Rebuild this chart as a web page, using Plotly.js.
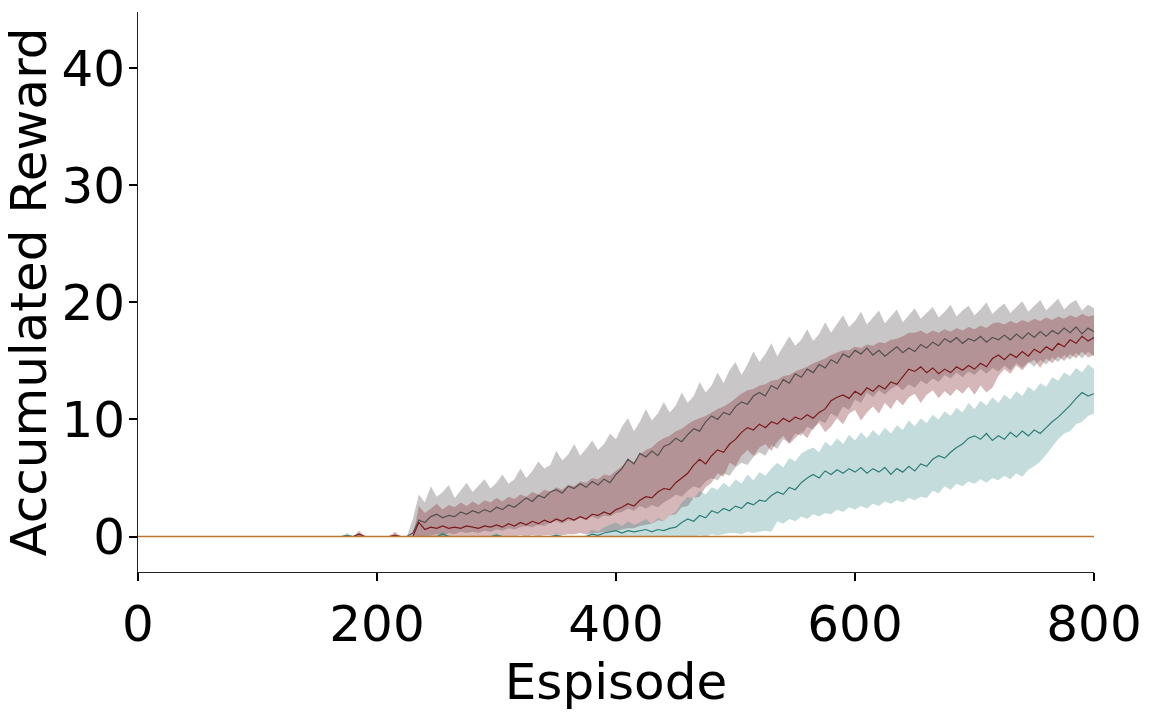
<!DOCTYPE html>
<html>
<head>
<meta charset="utf-8">
<script src="https://cdn.plot.ly/plotly-3.0.1.min.js"></script>
<style>
  html, body { margin: 0; padding: 0; background: #fff; }
  #chart { width: 1152px; height: 720px; }
</style>
</head>
<body>
<div id="chart"></div>
<script>
// episodes 0..800, sampled every 5
const episodes = [];
for (let e = 0; e <= 800; e += 5) episodes.push(e);

// 0..225 (46 samples) are flat at zero, then 230..800
const grayMean = [
  0,0,0,0,0,0,0,0,0,0, 0,0,0,0,0,0,0,0,0,0, 0,0,0,0,0,0,0,0,0,0, 0,0,0,0,0,0,0,0,0,0, 0,0,0,0,0,0,
  0.3,1.4,1.2,1.7,1.9,1.6,1.8,1.7,2.1,1.9,
  2.2,2.0,2.3,2.1,2.5,2.3,2.7,2.5,2.9,3.3,
  3.0,3.5,3.3,3.8,4.0,3.7,4.3,4.1,4.5,4.2,
  4.7,4.4,4.9,4.6,5.3,5.8,6.6,6.2,7.1,6.8,
  7.3,6.9,7.7,7.9,8.4,8.1,8.7,9.2,9.0,9.8,
  10.3,10.0,10.6,10.4,11.1,11.5,11.3,12.0,12.3,12.0,
  12.9,12.6,13.4,13.1,13.9,13.6,14.3,14.0,14.7,14.4,
  15.1,14.8,15.6,15.3,15.9,15.6,16.1,15.5,15.9,15.4,
  15.8,16.2,15.7,16.1,15.8,16.4,16.1,16.6,16.3,16.9,
  16.6,17.0,16.5,16.9,16.7,17.1,16.6,17.0,16.8,17.2,
  16.8,17.3,16.9,17.4,17.0,17.5,17.1,17.6,17.3,17.8,
  17.4,17.9,17.3,17.8,17.5
];
const grayUpper = [
  0,0,0,0,0,0,0,0,0,0, 0,0,0,0,0,0,0,0,0,0, 0,0,0,0,0,0,0,0,0,0, 0,0,0,0,0,0,0,0.3,0,0, 0,0,0,0.2,0,0,
  1.5,3.6,2.9,4.3,3.4,3.8,4.4,3.3,3.9,4.6,
  3.8,4.4,4.9,4.1,4.6,5.3,4.5,4.9,5.8,5.0,
  5.6,6.4,5.8,6.1,7.3,6.5,7.0,7.9,6.9,7.5,
  8.2,7.4,7.9,8.8,8.3,9.4,10.1,9.0,9.8,10.9,
  9.9,10.5,11.5,10.6,11.2,12.3,11.4,12.0,13.2,12.3,
  12.9,14.0,13.1,14.2,14.9,13.8,14.7,15.8,14.9,15.6,
  16.5,15.4,16.2,17.1,16.3,16.8,17.7,16.7,17.3,18.3,
  17.4,18.1,18.9,17.9,18.4,19.2,18.1,18.7,19.3,18.2,
  18.8,19.4,18.3,18.9,19.5,18.6,19.1,19.6,18.7,19.2,
  19.8,18.8,19.3,19.7,18.9,19.4,20.0,19.0,19.5,19.9,
  19.1,19.6,20.1,19.2,19.7,20.2,19.3,19.8,20.3,19.4,
  19.9,20.2,19.3,19.8,19.5
];
const grayLower = [
  0,0,0,0,0,0,0,0,0,0, 0,0,0,0,0,0,0,0,0,0, 0,0,0,0,0,0,0,0,0,0, 0,0,0,0,0,0,0,0,0,0, 0,0,0,0,0,0,
  0,0,0,0.1,0.2,0.1,0.3,0.2,0.4,0.3,
  0.4,0.3,0.5,0.4,0.6,0.5,0.7,0.6,0.8,0.9,
  0.8,1.0,0.9,1.2,1.3,1.1,1.4,1.3,1.6,1.4,
  1.7,1.5,1.8,1.7,2.0,2.1,2.4,2.2,2.6,2.4,
  2.7,2.5,2.9,3.2,3.6,3.4,3.9,4.3,4.1,4.7,
  5.0,4.8,5.4,5.2,5.9,6.3,6.1,6.8,7.2,6.9,
  7.8,7.5,8.3,8.0,8.8,8.6,9.4,9.1,9.9,9.7,
  10.5,10.2,11.1,10.8,11.7,11.4,12.3,11.9,12.5,12.1,
  12.6,12.9,12.5,13.0,12.7,13.3,13.0,13.5,13.2,13.8,
  13.5,14.0,13.6,14.1,13.8,14.3,13.9,14.4,14.1,14.6,
  14.2,14.8,14.4,14.9,14.5,15.1,14.7,15.3,14.9,15.5,
  15.1,15.7,15.2,15.8,15.4
];

const redMean = [
  0,0,0,0,0,0,0,0,0,0, 0,0,0,0,0,0,0,0,0,0, 0,0,0,0,0,0,0,0,0,0, 0,0,0,0,0,0,0,0.2,0,0, 0,0,0,0.1,0,0,
  0,1.2,0.6,0.8,0.7,0.9,0.7,0.8,0.7,0.9,
  0.8,0.7,0.9,0.8,1.0,0.8,1.1,0.9,1.2,1.0,
  1.3,1.1,1.4,1.2,1.5,1.3,1.6,1.4,1.7,1.5,
  1.9,1.8,2.1,1.9,2.3,2.5,2.8,2.6,3.1,3.4,
  3.3,3.8,4.1,4.0,4.6,5.0,5.4,6.1,6.6,6.2,
  6.9,7.4,7.2,7.9,8.3,8.9,9.3,9.1,9.6,9.3,
  9.8,9.6,10.1,9.8,10.2,10.0,10.4,10.1,10.6,10.9,
  11.6,11.9,12.1,11.8,12.4,12.1,12.7,12.4,12.9,12.6,
  13.2,13.0,13.6,14.3,14.1,14.5,14.0,14.4,13.9,14.3,
  14.0,14.5,14.2,14.6,14.3,14.8,14.5,15.2,15.5,15.1,
  15.6,15.3,15.8,15.4,16.0,15.7,16.2,15.9,16.5,16.2,
  16.8,16.5,17.1,16.7,17.0
];
const redUpper = [
  0,0,0,0,0,0,0,0,0,0, 0,0,0,0,0,0,0,0,0,0, 0,0,0,0,0,0,0,0,0,0, 0,0,0,0,0,0,0,0.5,0,0, 0,0,0,0.4,0,0,
  0,2.6,2.0,2.4,2.8,2.3,2.7,2.5,2.9,2.6,
  3.0,2.7,3.1,2.9,3.3,3.0,3.4,3.2,3.6,3.4,
  3.8,3.6,4.0,3.8,4.2,4.0,4.4,4.3,4.7,4.6,
  5.0,4.9,5.3,5.2,5.6,6.0,6.5,6.4,7.0,7.4,
  7.6,8.1,8.4,8.6,9.0,9.2,9.6,9.9,10.1,10.3,
  10.6,10.9,11.1,11.4,11.8,12.2,12.5,12.6,12.9,13.0,
  13.3,13.4,13.7,13.8,14.1,14.3,14.5,14.8,15.0,15.2,
  15.5,15.7,15.9,15.9,16.2,16.1,16.4,16.3,16.6,16.5,
  16.8,16.9,17.1,17.4,17.4,17.6,17.3,17.6,17.4,17.7,
  17.5,17.8,17.6,17.9,17.7,18.0,17.8,18.2,18.3,18.1,
  18.4,18.2,18.5,18.3,18.6,18.4,18.7,18.5,18.8,18.6,
  18.9,18.7,19.0,18.8,18.9
];
const redLower = [
  0,0,0,0,0,0,0,0,0,0, 0,0,0,0,0,0,0,0,0,0, 0,0,0,0,0,0,0,0,0,0, 0,0,0,0,0,0,0,0,0,0, 0,0,0,0,0,0,
  0,0,0,0,0,0,0,0,0,0,
  0,0,0,0,0,0,0,0,0.1,0,
  0.1,0,0.1,0.1,0.2,0.1,0.2,0.2,0.3,0.2,
  0.3,0.3,0.4,0.4,0.5,0.6,0.7,0.7,0.9,1.0,
  1.1,1.4,1.3,1.8,1.9,2.5,2.6,3.3,3.4,4.2,
  4.6,5.4,5.1,6.3,6.0,6.9,7.4,6.9,7.6,7.9,
  7.3,8.1,8.6,7.9,8.4,8.9,8.4,9.3,9.7,8.9,
  9.4,10.1,9.6,10.5,10.8,9.9,10.6,11.1,10.5,11.4,
  10.9,11.7,11.2,11.9,12.2,11.4,12.1,12.5,11.8,12.4,
  12.0,12.6,12.2,12.8,12.1,12.9,12.3,12.7,13.7,14.3,
  13.9,14.6,14.2,14.8,15.1,14.4,15.2,14.8,15.4,15.0,
  15.6,15.2,15.8,15.3,15.5
];

const tealMean = [
  0,0,0,0,0,0,0,0,0,0, 0,0,0,0,0,0,0,0,0,0, 0,0,0,0,0,0,0,0,0,0, 0,0,0,0,0,0.1,0,0,0,0, 0,0,0,0,0,0,
  0,0,0,0,0,0.2,0,0,0,0,
  0,0,0,0,0.1,0,0,0,0,0,
  0,0,0,0,0.1,0,0,0,0,0,
  0.2,0.1,0.3,0.4,0.5,0.3,0.5,0.4,0.5,0.6,
  0.4,0.6,0.5,0.7,0.8,1.2,1.5,1.3,1.8,1.6,
  2.2,2.0,2.4,2.2,2.6,2.4,2.9,2.7,3.1,3.0,
  3.5,3.8,3.6,4.2,4.0,4.6,5.0,5.3,5.0,5.6,
  5.3,5.7,5.4,5.8,5.5,5.9,5.4,5.8,5.5,5.9,
  5.3,5.8,5.5,6.0,5.6,6.2,6.0,6.6,6.9,6.7,
  7.2,7.6,7.9,8.4,8.6,8.3,8.8,8.2,8.6,8.3,
  8.9,8.5,9.0,8.6,9.1,8.8,9.3,9.8,10.2,10.7,
  11.2,11.8,12.3,12.0,12.2
];
const tealUpper = [
  0,0,0,0,0,0,0,0,0,0, 0,0,0,0,0,0,0,0,0,0, 0,0,0,0,0,0,0,0,0,0, 0,0,0,0,0,0.3,0,0,0,0, 0,0,0,0,0,0,
  0,0,0,0.1,0,0.4,0.1,0,0,0,
  0,0,0,0,0.3,0,0,0,0,0,
  0,0,0,0,0.3,0,0,0,0,0.1,
  0.6,0.4,0.8,1.0,1.2,0.9,1.3,1.0,1.2,1.5,
  1.1,1.6,1.3,1.8,2.1,2.9,3.4,3.2,3.9,3.6,
  4.2,4.0,4.6,4.2,4.9,4.5,5.3,4.8,5.5,5.2,
  5.8,6.3,5.9,6.7,6.4,7.1,7.4,7.6,7.2,8.1,
  7.7,8.4,7.9,8.7,8.2,8.9,8.4,9.1,8.6,9.3,
  8.8,9.5,9.1,9.9,9.4,10.1,9.7,10.4,10.0,10.7,
  10.3,11.0,10.6,11.4,10.9,11.6,11.2,11.9,11.4,12.1,
  11.7,12.4,12.0,12.8,12.4,13.1,12.8,13.6,13.3,14.0,
  13.7,14.4,14.0,14.7,14.3
];
const tealLower = [
  0,0,0,0,0,0,0,0,0,0, 0,0,0,0,0,0,0,0,0,0, 0,0,0,0,0,0,0,0,0,0, 0,0,0,0,0,0,0,0,0,0, 0,0,0,0,0,0,
  0,0,0,0,0,0,0,0,0,0,
  0,0,0,0,0,0,0,0,0,0,
  0,0,0,0,0,0,0,0,0,0,
  0,0,0,0,0,0,0,0,0,0,
  0,0,0,0,0,0,0,0,0.1,0,
  0.2,0.1,0.2,0.3,0.3,0.2,0.4,0.3,0.4,0.5,
  0.4,1.3,1.1,1.5,1.3,1.7,1.5,1.9,1.7,2.0,
  1.9,2.3,2.1,2.5,2.3,2.6,2.4,2.8,2.6,3.0,
  2.8,3.1,2.9,3.3,3.1,3.4,3.3,3.9,3.7,4.3,
  4.0,4.5,4.3,4.7,4.5,4.9,4.6,5.0,4.8,5.2,
  4.9,5.4,5.1,5.7,6.0,6.4,7.0,7.7,8.3,8.8,
  9.0,9.6,9.8,10.3,10.5
];

// flat baseline series
const orangeEpisodes = [0, 800];
const orangeMean = [0, 0];

const xTicks = [0, 200, 400, 600, 800];
const yTicks = [0, 10, 20, 30, 40];

function band(lower, upper, fill) {
    return [
        { x: episodes, y: lower, type: 'scatter', mode: 'lines', line: { width: 0 }, hoverinfo: 'skip', showlegend: false },
        { x: episodes, y: upper, type: 'scatter', mode: 'lines', line: { width: 0 }, fill: 'tonexty', fillcolor: fill, hoverinfo: 'skip', showlegend: false },
    ];
}

function meanLine(x, y, color, width) {
    return { x: x, y: y, type: 'scatter', mode: 'lines', line: { color: color, width: width }, showlegend: false };
}

const traces = [
    ...band(grayLower, grayUpper, 'rgba(125,118,122,0.42)'),
    ...band(redLower, redUpper, 'rgba(145,65,70,0.38)'),
    ...band(tealLower, tealUpper, 'rgba(60,140,140,0.3)'),
    meanLine(episodes, grayMean, '#555050', 1.2),
    meanLine(episodes, redMean, '#7a1a1e', 1.2),
    meanLine(episodes, tealMean, '#2e7d78', 1.2),
    meanLine(orangeEpisodes, orangeMean, '#b8782d', 1.5),
];

const font = { family: 'DejaVu Sans, sans-serif', size: 50, color: '#000' };

const layout = {
    width: 1152,
    height: 720,
    margin: { t: 12, b: 148, l: 138, r: 58 },
    paper_bgcolor: '#fff',
    plot_bgcolor: '#fff',
    font: font,
    showlegend: false,
    xaxis: {
        range: [0, 800],
        tickvals: xTicks,
        ticks: 'outside', ticklen: 8, tickwidth: 2, tickcolor: '#000',
        showline: true, linecolor: '#222', linewidth: 1,
        showgrid: false, zeroline: false,
        tickfont: font,
        title: { text: 'Espisode', font: font, standoff: 8 },
    },
    yaxis: {
        range: [-3.03, 44.8],
        tickvals: yTicks,
        ticks: 'outside', ticklen: 8, tickwidth: 2, tickcolor: '#000',
        ticklabelstandoff: -6,
        showline: true, linecolor: '#222', linewidth: 1,
        showgrid: false, zeroline: false,
        tickfont: font,
        title: { text: 'Accumulated Reward', font: font, standoff: 8 },
    },
};

Plotly.newPlot('chart', traces, layout, { displayModeBar: false, staticPlot: true });
</script>
</body>
</html>
